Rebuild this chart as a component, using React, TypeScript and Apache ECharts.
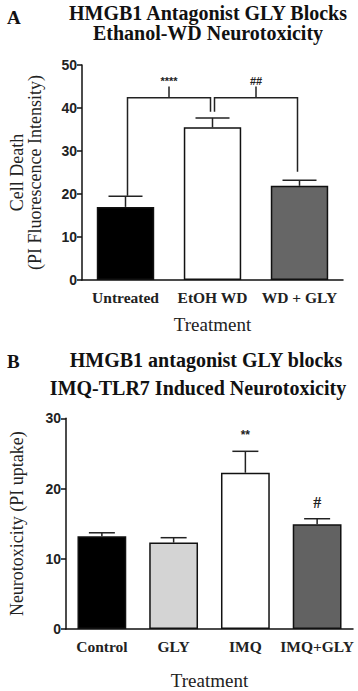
import React, { useEffect, useRef } from "react";
import * as echarts from "echarts";

// ---- Panel A data ----
const catsA = ["Untreated", "EtOH WD", "WD + GLY"];
const meanA = [17.0, 35.5, 21.9];
const upperA = [19.5, 37.7, 23.2];
const colorsA = ["#000000", "#ffffff", "#666666"];
// brackets: [fromIdx, toIdx, level, fromDrop, toDrop, tickTop]
const bracketsA = [
  [0, 1, 42.4, 19.6, 39.1, 45.0],
  [1, 2, 42.4, 39.1, 25.2, 45.0],
];
const bracketLabelsA = ["****", "##"];
const ticksA = { min: 0, max: 50, interval: 10 };

// ---- Panel B data ----
const catsB = ["Control", "GLY", "IMQ", "IMQ+GLY"];
const meanB = [13.2, 12.3, 22.25, 14.9];
const upperB = [13.7, 13.0, 25.3, 15.7];
const colorsB = ["#000000", "#d4d4d4", "#ffffff", "#626262"];
const sigB = ["", "", "**", "#"];
const ticksB = { min: 0, max: 30, interval: 10 };

const SERIF = "'Liberation Serif', 'DejaVu Serif', serif";
const SANS = "'Liberation Sans', Arial, sans-serif";

function errorRender(capW: number, labels?: string[]) {
  return (params: any, api: any) => {
    const idx = api.value(0);
    const p0 = api.coord([idx, api.value(1)]);
    const p1 = api.coord([idx, api.value(2)]);
    const children: any[] = [
      { type: "line", shape: { x1: p0[0], y1: p0[1], x2: p1[0], y2: p1[1] }, style: { stroke: "#222", lineWidth: 1.5 } },
      { type: "line", shape: { x1: p1[0] - capW / 2, y1: p1[1], x2: p1[0] + capW / 2, y2: p1[1] }, style: { stroke: "#222", lineWidth: 1.5 } },
    ];
    const lab = labels ? labels[params.dataIndex] : "";
    if (lab) {
      children.push({
        type: "text",
        style: {
          text: lab,
          x: p1[0],
          y: p1[1] - 16,
          align: "center",
          verticalAlign: "middle",
          fill: "#222",
          fontFamily: lab === "#" ? SERIF : SANS,
          fontSize: lab === "#" ? 16 : 12,
          fontWeight: "bold",
        },
      });
    }
    return { type: "group", children };
  };
}

function bracketRender(params: any, api: any) {
  const a = api.value(0);
  const b = api.value(1);
  const lvl = api.value(2);
  const gap = 2;
  const pa = api.coord([a, lvl]);
  const pb = api.coord([b, lvl]);
  const xa = pa[0] + gap;
  const xb = pb[0] - gap;
  const y = pa[1];
  const ya = api.coord([a, api.value(3)])[1];
  const yb = api.coord([b, api.value(4)])[1];
  const yt = api.coord([a, api.value(5)])[1];
  const xm = (xa + xb) / 2;
  const st = { stroke: "#222", lineWidth: 1.5, fill: null };
  return {
    type: "group",
    children: [
      { type: "polyline", shape: { points: [[xa, ya], [xa, y], [xb, y], [xb, yb]] }, style: st },
      { type: "line", shape: { x1: xm, y1: y, x2: xm, y2: yt }, style: st },
      {
        type: "text",
        style: {
          text: bracketLabelsA[params.dataIndex],
          x: xm,
          y: yt - 6,
          align: "center",
          verticalAlign: "middle",
          fill: "#222",
          fontFamily: SANS,
          fontSize: 11,
          fontWeight: "bold",
        },
      },
    ],
  };
}

const axisLine = { lineStyle: { color: "#111", width: 1.5 } };

export default function App() {
  const ref = useRef<HTMLDivElement>(null);
  useEffect(() => {
    if (!ref.current) return;
    const chart = echarts.init(ref.current, null, { renderer: "svg" });
    const xAxisCommon = (data: string[], gridIndex: number, gap: number) => ({
      type: "category",
      gridIndex,
      data,
      axisLine,
      axisTick: { alignWithLabel: true, length: 5, lineStyle: { color: "#111", width: 1.5 } },
      axisLabel: { interval: 0, fontFamily: SERIF, fontWeight: "bold", fontSize: 15.5, color: "#222", margin: 9 },
      name: "Treatment",
      nameLocation: "middle",
      nameGap: gap,
      nameTextStyle: { fontFamily: SERIF, fontSize: 19, color: "#222" },
    });
    const yAxisCommon = (t: any, gridIndex: number, name: string, gap: number, lh: number) => ({
      type: "value",
      gridIndex,
      min: t.min,
      max: t.max,
      interval: t.interval,
      axisLine: { show: true, ...axisLine },
      axisTick: { show: true, length: 5, lineStyle: { color: "#111", width: 1.5 } },
      splitLine: { show: false },
      axisLabel: { fontFamily: SANS, fontWeight: "bold", fontSize: 14, color: "#222", margin: 5 },
      name,
      nameLocation: "middle",
      nameRotate: 90,
      nameGap: gap,
      nameTextStyle: { fontFamily: SERIF, fontSize: 18, color: "#222", lineHeight: lh },
    });
    chart.setOption({
      animation: false,
      backgroundColor: "#ffffff",
      grid: [
        { left: 76, top: 65, width: 267, height: 215 },
        { left: 58, top: 418.3, width: 295, height: 215 },
      ],
      xAxis: [xAxisCommon(catsA, 0, 35), xAxisCommon(catsB, 1, 42)],
      yAxis: [
        yAxisCommon(ticksA, 0, "Cell Death\n(PI Fluorescence Intensity)", 38, 18),
        yAxisCommon(ticksB, 1, "Neurotoxicity (PI uptake)", 40, 18),
      ],
      series: [
        {
          type: "bar",
          xAxisIndex: 0,
          yAxisIndex: 0,
          barWidth: "66%",
          data: meanA.map((v, i) => ({ value: v, itemStyle: { color: colorsA[i] } })),
          itemStyle: { borderColor: "#111", borderWidth: 1.5 },
        },
        {
          type: "custom",
          xAxisIndex: 0,
          yAxisIndex: 0,
          renderItem: errorRender(34),
          data: meanA.map((v, i) => [i, v, upperA[i]]),
          z: 3,
        },
        {
          type: "custom",
          xAxisIndex: 0,
          yAxisIndex: 0,
          renderItem: bracketRender,
          data: bracketsA,
          clip: false,
          z: 4,
        },
        {
          type: "bar",
          xAxisIndex: 1,
          yAxisIndex: 1,
          barWidth: "68%",
          data: meanB.map((v, i) => ({ value: v, itemStyle: { color: colorsB[i] } })),
          itemStyle: { borderColor: "#111", borderWidth: 1.5 },
        },
        {
          type: "custom",
          xAxisIndex: 1,
          yAxisIndex: 1,
          renderItem: errorRender(26, sigB),
          data: meanB.map((v, i) => [i, v, upperB[i]]),
          clip: false,
          z: 3,
        },
      ],
      graphic: [
        { type: "text", left: 7, top: 8, style: { text: "A", fontFamily: SERIF, fontWeight: "bold", fontSize: 19, fill: "#111" } },
        { type: "text", x: 208, y: 13, style: { text: "HMGB1 Antagonist GLY Blocks", align: "center", verticalAlign: "middle", fontFamily: SERIF, fontWeight: "bold", fontSize: 20, fill: "#111" } },
        { type: "text", x: 208, y: 33, style: { text: "Ethanol-WD Neurotoxicity", align: "center", verticalAlign: "middle", fontFamily: SERIF, fontWeight: "bold", fontSize: 20, fill: "#111" } },
        { type: "text", left: 7, top: 352, style: { text: "B", fontFamily: SERIF, fontWeight: "bold", fontSize: 19, fill: "#111" } },
        { type: "text", x: 206, y: 360, style: { text: "HMGB1 antagonist GLY blocks", align: "center", verticalAlign: "middle", fontFamily: SERIF, fontWeight: "bold", fontSize: 20, fill: "#111" } },
        { type: "text", x: 198, y: 388, style: { text: "IMQ-TLR7 Induced Neurotoxicity", align: "center", verticalAlign: "middle", fontFamily: SERIF, fontWeight: "bold", fontSize: 20, fill: "#111" } },
      ],
    });
    return () => chart.dispose();
  }, []);
  return <div ref={ref} style={{ width: 358, height: 691, position: "absolute", left: 0, top: 0 }} />;
}
